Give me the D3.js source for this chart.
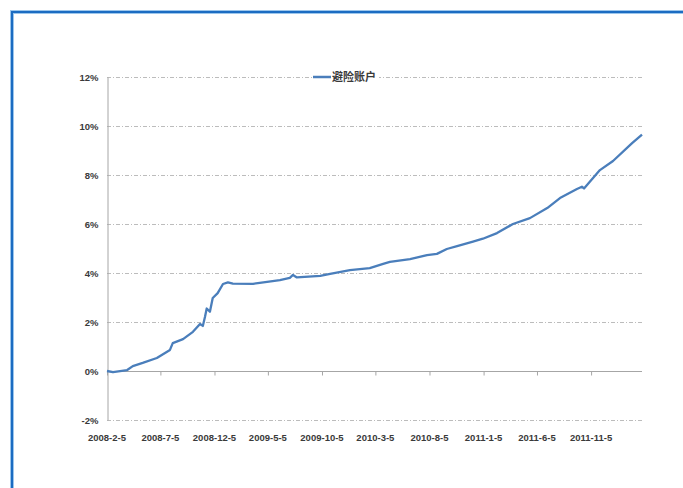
<!DOCTYPE html>
<html>
<head>
<meta charset="utf-8">
<script src="https://cdn.jsdelivr.net/npm/d3@7"></script>
<style>
  html, body { margin: 0; padding: 0; background: #fff; }
  svg { display: block; }
</style>
</head>
<body>
<svg id="chart" width="683" height="488"></svg>
<script>
// Series: cumulative return of the account (percent), by valuation date
const seriesName = "避险账户";
const dates = [
  "2008-02-05","2008-02-22","2008-04-02","2008-04-18","2008-05-16","2008-06-25",
  "2008-08-01","2008-08-09","2008-09-07","2008-10-05","2008-10-25","2008-11-02",
  "2008-11-08","2008-11-13","2008-11-22","2008-11-30","2008-12-14","2008-12-29",
  "2009-01-12","2009-01-26","2009-03-24","2009-04-12","2009-06-08","2009-07-06",
  "2009-07-15","2009-07-26","2009-09-30","2009-10-28","2009-12-23","2010-02-17",
  "2010-03-27","2010-04-15","2010-06-11","2010-07-29","2010-08-26","2010-09-23",
  "2010-10-22","2010-12-06","2011-01-03","2011-02-12","2011-03-29","2011-05-16",
  "2011-07-04","2011-08-09","2011-09-26","2011-10-10","2011-10-16","2011-11-30",
  "2012-01-06","2012-02-29","2012-03-28"
];
const values = [
  0.00, -0.05, 0.04, 0.20, 0.33, 0.53,
  0.86, 1.14, 1.30, 1.60, 1.92, 1.84,
  2.20, 2.55, 2.42, 2.98, 3.18, 3.55,
  3.62, 3.57, 3.56, 3.60, 3.71, 3.80,
  3.92, 3.82, 3.88, 3.96, 4.12, 4.20,
  4.37, 4.45, 4.57, 4.73, 4.78, 4.98,
  5.10, 5.28, 5.40, 5.63, 6.00, 6.24,
  6.65, 7.06, 7.43, 7.52, 7.45, 8.20,
  8.57, 9.30, 9.65
];
const yTicks = [-2, 0, 2, 4, 6, 8, 10, 12];
const xTickLabels = [
  "2008-2-5","2008-7-5","2008-12-5","2009-5-5","2009-10-5",
  "2010-3-5","2010-8-5","2011-1-5","2011-6-5","2011-11-5"
];
const xDomain = ["2008-02-05", "2012-03-28"];

const parse = d3.timeParse("%Y-%m-%d");
const data = dates.map((d, i) => ({ date: parse(d), value: values[i] }));
const tickDates = xTickLabels.map(s => {
  const [yr, m, d] = s.split("-").map(Number);
  return new Date(yr, m - 1, d);
});

const svg = d3.select("#chart");
const plot = { left: 107, right: 642, top: 77, bottom: 420 };
const labelFont = "'Liberation Sans', Arial, sans-serif";

const x = d3.scaleTime()
  .domain(xDomain.map(parse))
  .range([plot.left, plot.right]);
const y = d3.scaleLinear()
  .domain([-2, 12])
  .range([plot.bottom, plot.top]);

// Outer frame
svg.append("rect")
  .attr("x", 12).attr("y", 12)
  .attr("width", 720).attr("height", 520)
  .attr("fill", "none")
  .attr("stroke", "#9cc6ec")
  .attr("stroke-width", 4);
svg.append("rect")
  .attr("x", 12).attr("y", 12)
  .attr("width", 720).attr("height", 520)
  .attr("fill", "none")
  .attr("stroke", "#1b6cc2")
  .attr("stroke-width", 2);

// Dashed horizontal gridlines
svg.append("g")
  .selectAll("line")
  .data(yTicks.filter(t => t !== 0))
  .join("line")
  .attr("x1", plot.left).attr("x2", plot.right)
  .attr("y1", d => y(d) + 0.5).attr("y2", d => y(d) + 0.5)
  .attr("stroke", "#bcbcbc")
  .attr("stroke-width", 1)
  .attr("stroke-dasharray", "4,2,1,2");

// Y axis
const yAxis = d3.axisLeft(y)
  .tickValues(yTicks)
  .tickSize(0)
  .tickPadding(9)
  .tickFormat(d => d + "%");
const gy = svg.append("g")
  .attr("transform", `translate(${plot.left + 0.5},0)`)
  .call(yAxis);
gy.select(".domain").attr("stroke", "#a6a6a6");
gy.selectAll("text")
  .attr("fill", "#3a3a3a")
  .attr("font-family", labelFont)
  .attr("font-weight", "bold")
  .attr("font-size", "9.5px");

// X axis line crossing at 0%, with tick marks
const xAxisLine = d3.axisBottom(x)
  .tickValues(tickDates)
  .tickSize(4)
  .tickFormat("");
const gx = svg.append("g")
  .attr("transform", `translate(0,${y(0) + 0.5})`)
  .call(xAxisLine);
gx.select(".domain").attr("stroke", "#a6a6a6").attr("d", `M${plot.left},0H${plot.right}`);
gx.selectAll(".tick line").attr("stroke", "#a6a6a6");

// X labels along the bottom edge
svg.append("g")
  .selectAll("text")
  .data(tickDates)
  .join("text")
  .attr("x", d => x(d))
  .attr("y", 441)
  .attr("text-anchor", "middle")
  .attr("fill", "#3a3a3a")
  .attr("font-family", labelFont)
  .attr("font-weight", "bold")
  .attr("font-size", "9.5px")
  .text((d, i) => xTickLabels[i]);

// Series line
const line = d3.line()
  .x(d => x(d.date))
  .y(d => y(d.value));
svg.append("path")
  .datum(data)
  .attr("d", line)
  .attr("fill", "none")
  .attr("stroke", "#4a7ebb")
  .attr("stroke-width", 2.3)
  .attr("stroke-linejoin", "round");

// Legend
const lg = svg.append("g").attr("transform", "translate(313,77)");
lg.append("rect")
  .attr("x", 0).attr("y", -6)
  .attr("width", 66).attr("height", 12)
  .attr("fill", "#fff");
lg.append("line")
  .attr("x1", 0).attr("x2", 18)
  .attr("y1", 0).attr("y2", 0)
  .attr("stroke", "#4a7ebb")
  .attr("stroke-width", 2.5);
lg.append("text")
  .attr("x", 19).attr("y", 4)
  .attr("fill", "#3a3a3a")
  .attr("font-family", "'Noto Sans CJK SC', sans-serif")
  .attr("font-weight", "bold")
  .attr("font-size", "11px")
  .text(seriesName);
</script>
</body>
</html>
